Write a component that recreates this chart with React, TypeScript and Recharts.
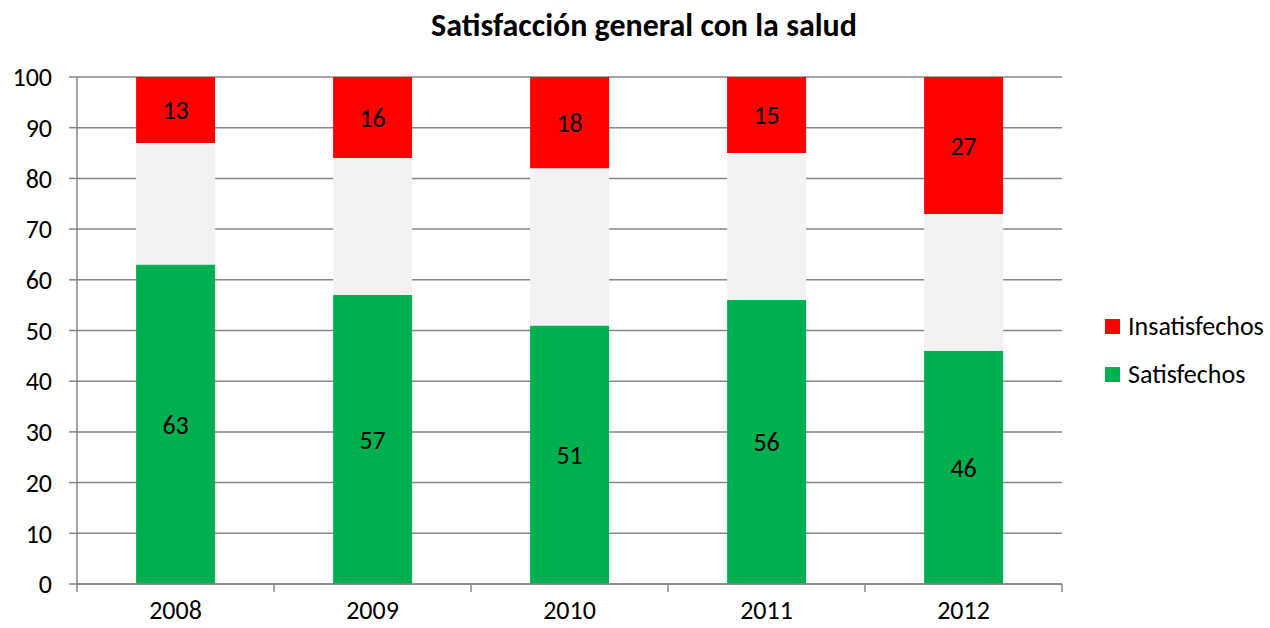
import React from 'react';
import { BarChart, Bar, XAxis, YAxis, CartesianGrid, LabelList } from 'recharts';

const years = ['2008', '2009', '2010', '2011', '2012'];
const satisfechos = [63, 57, 51, 56, 46];
const insatisfechos = [13, 16, 18, 15, 27];
const yTicks = [0, 10, 20, 30, 40, 50, 60, 70, 80, 90, 100];

const GREEN = '#00B050';
const RED = '#FF0000';
const MIDDLE = '#F2F2F2';
const AXIS = '#868686';
const FONT = "Carlito, Calibri, Lato, sans-serif";

const W = 1270;
const H = 628;
const X_AXIS_H = 30;
const MARGIN = { top: 77, right: 208, bottom: 44 - X_AXIS_H, left: 0 };
const Y_AXIS_W = 77;
const PLOT_W = W - MARGIN.left - MARGIN.right - Y_AXIS_W;
const BAND = PLOT_W / years.length;

const data = years.map((year, i) => ({
  year,
  satisfechos: satisfechos[i],
  resto: 100 - satisfechos[i] - insatisfechos[i],
  insatisfechos: insatisfechos[i],
}));

const legendItems = [
  { name: 'Insatisfechos', color: RED },
  { name: 'Satisfechos', color: GREEN },
];

interface TickProps {
  x?: number;
  y?: number;
  index?: number;
  payload?: { value: string };
}

// category ticks sit on the band edges, like the original spreadsheet chart
const YearTick = ({ x = 0, y = 0, index = 0, payload }: TickProps) => {
  const left = x - BAND / 2;
  return (
    <g>
      <line x1={left} x2={left} y1={y} y2={y + 8} stroke={AXIS} strokeWidth={1.5} />
      {index === years.length - 1 && (
        <line x1={x + BAND / 2} x2={x + BAND / 2} y1={y} y2={y + 8} stroke={AXIS} strokeWidth={1.5} />
      )}
      <text x={x} y={y + 35} textAnchor="middle" fontSize={26} fontFamily={FONT} fill="#000">
        {payload?.value}
      </text>
    </g>
  );
};

export default function App() {
  return (
    <div style={{ position: 'relative', width: W, height: H, background: '#fff', overflow: 'hidden' }}>
      <style>{'body{margin:0}'}</style>
      <div
        style={{
          position: 'absolute',
          top: 6,
          left: 0,
          width: W,
          textAlign: 'center',
          fontFamily: FONT,
          fontWeight: 700,
          fontSize: 32,
          color: '#000',
          paddingLeft: 18,
          boxSizing: 'border-box',
        }}
      >
        Satisfacción general con la salud
      </div>
      <div style={{ position: 'absolute', left: 1105, top: 302, fontFamily: FONT, fontSize: 26, color: '#000' }}>
        {legendItems.map((it) => (
          <div key={it.name} style={{ display: 'flex', alignItems: 'center', height: 48 }}>
            <span style={{ width: 15, height: 15, background: it.color, display: 'inline-block', marginRight: 8 }} />
            {it.name}
          </div>
        ))}
      </div>
      <BarChart width={W} height={H} data={data} margin={MARGIN} barCategoryGap="30%">
        <CartesianGrid vertical={false} stroke={AXIS} strokeWidth={1.5} />
        <XAxis
          dataKey="year"
          height={X_AXIS_H}
          axisLine={{ stroke: AXIS, strokeWidth: 1.5 }}
          tickLine={false}
          tickSize={0}
          tickMargin={0}
          tick={<YearTick />}
          interval={0}
        />
        <YAxis
          width={Y_AXIS_W}
          domain={[0, 100]}
          ticks={yTicks}
          interval={0}
          axisLine={{ stroke: AXIS, strokeWidth: 1.5 }}
          tickLine={{ stroke: AXIS, strokeWidth: 1.5 }}
          tickSize={8}
          tickMargin={17}
          tick={{ fontSize: 26, fontFamily: FONT, fill: '#000' }}
        />
        <Bar dataKey="satisfechos" stackId="a" fill={GREEN} isAnimationActive={false}>
          <LabelList dataKey="satisfechos" position="center" fill="#000" fontSize={26} fontFamily={FONT} />
        </Bar>
        <Bar dataKey="resto" stackId="a" fill={MIDDLE} isAnimationActive={false} legendType="none" />
        <Bar dataKey="insatisfechos" stackId="a" fill={RED} isAnimationActive={false}>
          <LabelList dataKey="insatisfechos" position="center" fill="#000" fontSize={26} fontFamily={FONT} />
        </Bar>
      </BarChart>
    </div>
  );
}
